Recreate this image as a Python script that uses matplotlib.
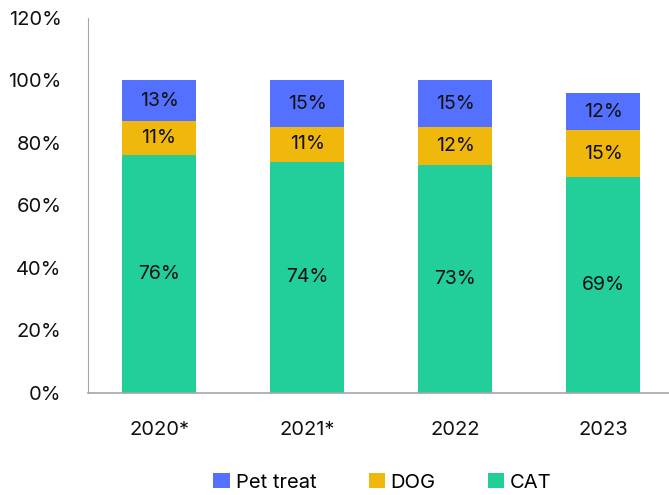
import numpy as np
import matplotlib.pyplot as plt
from matplotlib.ticker import PercentFormatter

plt.rcParams['font.family'] = ['Inter', 'DejaVu Sans']

years = ['2020*', '2021*', '2022', '2023']
cat = [76, 74, 73, 69]
dog = [11, 11, 12, 15]
pet_treat = [13, 15, 15, 12]

c_cat = '#22CE99'
c_dog = '#F0B70D'
c_pet = '#5470FF'

fig = plt.figure(figsize=(6.69, 4.95), dpi=100)
ax = fig.add_axes([0.1315, 0.206, 0.87, 0.758])

x = np.arange(len(years))
w = 0.5
cat_a = np.array(cat)
dog_a = np.array(dog)
pet_a = np.array(pet_treat)

ax.bar(x, cat_a, w, color=c_cat, label='CAT')
ax.bar(x, dog_a, w, bottom=cat_a, color=c_dog, label='DOG')
ax.bar(x, pet_a, w, bottom=cat_a + dog_a, color=c_pet, label='Pet treat')

# labels in the middle of each segment
for i in range(len(years)):
    ax.text(x[i], cat_a[i] / 2, f'{cat[i]}%', ha='center', va='center', fontsize=14, color='#111111')
    ax.text(x[i], cat_a[i] + dog_a[i] / 2, f'{dog[i]}%', ha='center', va='center', fontsize=14, color='#111111')
    ax.text(x[i], cat_a[i] + dog_a[i] + pet_a[i] / 2, f'{pet_treat[i]}%', ha='center', va='center', fontsize=14, color='#111111')

ax.set_ylim(0, 120)
ax.set_yticks(np.arange(0, 121, 20))
ax.yaxis.set_major_formatter(PercentFormatter(decimals=0))
ax.set_xlim(-0.48, 3.45)
ax.set_xticks(x)
ax.set_xticklabels(years)
ax.tick_params(axis='both', length=0, labelsize=14.5, colors='#111111')
ax.tick_params(axis='x', pad=20)
ax.tick_params(axis='y', pad=19)

for s in ['top', 'right']:
    ax.spines[s].set_visible(False)
ax.spines['left'].set_color('#A6A6A6')
ax.spines['bottom'].set_color('#A6A6A6')
ax.spines['bottom'].set_linewidth(1.2)

h, l = ax.get_legend_handles_labels()
fig.legend(h[::-1], l[::-1], loc='lower center', bbox_to_anchor=(0.572, -0.03), ncol=3,
           frameon=False, fontsize=14.5, handlelength=0.8, handleheight=0.8,
           handletextpad=0.3, columnspacing=2.6)

fig.savefig('out.png', dpi=100)
